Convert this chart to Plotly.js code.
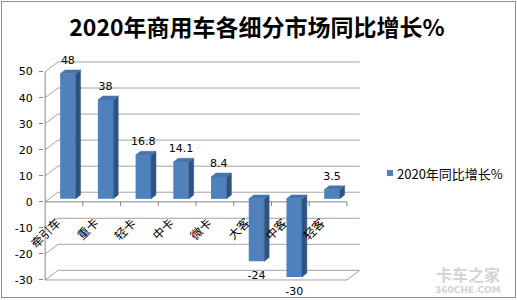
<!DOCTYPE html>
<html>
<head>
<meta charset="utf-8">
<script src="https://cdn.plot.ly/plotly-3.0.1.min.js"></script>
<style>
  html, body { margin: 0; padding: 0; background: #fff; }
  #wrap { position: relative; width: 517px; height: 300px; }
  #chart { position: absolute; left: 0; top: 0; width: 517px; height: 300px; }
  #frame { position: absolute; left: 1px; top: 1px; width: 515px; height: 297px;
           border: 1px solid #8c8c8c; box-sizing: border-box; pointer-events: none; }
</style>
</head>
<body>
<div id="wrap">
  <div id="chart"></div>
  <div id="frame"></div>
</div>
<script>
// ---- data ----
const titleText = '2020年商用车各细分市场同比增长%';
const categories = ['牵引车', '重卡', '轻卡', '中卡', '微卡', '大客', '中客', '轻客'];
const growth = [48, 38, 16.8, 14.1, 8.4, -24, -30, 3.5];
const seriesName = '2020年同比增长%';
const yTicks = [-30, -20, -10, 0, 10, 20, 30, 40, 50];

// ---- styling / pseudo-3D geometry ----
const W = 517, H = 300;
const M = { l: 44, r: 155, t: 56, b: 7 };
const PW = W - M.l - M.r, PH = H - M.t - M.b;
const XR = [-0.53, 7.9], YR = [-35, 56];
const BAR_OFF = 0.103, BAR_W = 0.41, BASE = 1.15, DX = 0.13, DY = 1.5;
const WALL_DX = 0.34, WALL_DY = 3.7;
const FRONT = '#4f81bd', SIDE = '#2f5381', TOP = '#4675ae';
const GRID = '#a3a3a3', AXIS = '#868686';
const n = categories.length;
const xLeft = -0.5, xRight = n - 0.5;
const yMin = yTicks[0], yMax = yTicks[yTicks.length - 1];

const px2x = px => (px - M.l) / PW;
const py2y = py => (H - M.b - py) / PH;

const xc = categories.map((c, i) => i + BAR_OFF);

// side and top faces
const sideX = [], sideY = [], topX = [], topY = [];
growth.forEach((v, i) => {
  const xl = xc[i] - BAR_W / 2, xr = xc[i] + BAR_W / 2;
  const y0 = BASE, y1 = v + BASE;
  sideX.push(xr, xr, xr + DX, xr + DX, xr, null);
  sideY.push(y0, y1, y1 + DY, y0 + DY, y0, null);
  const yt = Math.max(y0, y1);
  topX.push(xl, xr, xr + DX, xl + DX, xl, null);
  topY.push(yt, yt, yt + DY, yt + DY, yt, null);
});

const traces = [
  {
    type: 'bar', name: seriesName, x: xc, y: growth, base: BASE, width: BAR_W,
    marker: { color: FRONT, line: { width: 0 } }, showlegend: false, hoverinfo: 'y'
  },
  {
    type: 'scatter', mode: 'lines', x: sideX, y: sideY, fill: 'toself',
    fillcolor: SIDE, line: { width: 0.5, color: SIDE }, showlegend: false, hoverinfo: 'skip'
  },
  {
    type: 'scatter', mode: 'lines', x: topX, y: topY, fill: 'toself',
    fillcolor: TOP, line: { width: 0.5, color: TOP }, showlegend: false, hoverinfo: 'skip'
  },
  {
    type: 'scatter', mode: 'text', x: xc,
    y: growth.map(v => v + BASE + (v >= 0 ? 4.8 : -5.8)),
    text: growth.map(v => String(v)), textposition: 'middle center',
    textfont: { family: 'DejaVu Sans', size: 11, color: '#000' },
    cliponaxis: false, showlegend: false, hoverinfo: 'skip'
  }
];

const shapes = [];
const ln = (x0, y0, x1, y1, color) => shapes.push({
  type: 'line', xref: 'x', yref: 'y', x0, y0, x1, y1, layer: 'below',
  line: { color: color || GRID, width: 1 }
});
yTicks.forEach(v => {
  ln(xLeft + WALL_DX, v + WALL_DY, xRight + WALL_DX, v + WALL_DY);
  ln(xLeft, v, xLeft + WALL_DX, v + WALL_DY);
});
// floor front edge and right edge
ln(xLeft, yMin, xRight, yMin);
ln(xRight, yMin, xRight + WALL_DX, yMin + WALL_DY);
// category axis at zero with tick marks
ln(xLeft, 0, xRight, 0, AXIS);
for (let k = 1; k <= n; k++) ln(xLeft + k, 0, xLeft + k, -1.7, AXIS);
// value axis line
ln(xLeft, yMin, xLeft, yMax, AXIS);

// legend (drawn manually to match the small square key)
shapes.push({
  type: 'rect', xref: 'paper', yref: 'paper',
  x0: px2x(387), x1: px2x(393), y0: py2y(176), y1: py2y(170),
  fillcolor: FRONT, line: { width: 0 }
});

const annotations = categories.map((c, i) => ({
  x: i + 0.06, y: 0, xref: 'x', yref: 'y', text: c, showarrow: false,
  textangle: -45, xanchor: 'right', yanchor: 'top', yshift: -9,
  font: { family: 'Noto Sans CJK SC', size: 12, color: '#000' }
}));
annotations.push({
  x: px2x(395), y: py2y(173), xref: 'paper', yref: 'paper', text: seriesName,
  showarrow: false, xanchor: 'left', yanchor: 'middle',
  font: { family: 'Noto Sans CJK SC', size: 13, color: '#000' }
});
// watermark
annotations.push({
  x: px2x(468), y: py2y(274), xref: 'paper', yref: 'paper', text: '<b>卡车之家</b>',
  showarrow: false, xanchor: 'center', yanchor: 'middle',
  font: { family: 'Noto Sans CJK SC', size: 16, color: '#d4d4d4' }
});
annotations.push({
  x: px2x(468), y: py2y(290), xref: 'paper', yref: 'paper', text: '<b>360CHE.COM</b>',
  showarrow: false, xanchor: 'center', yanchor: 'middle',
  font: { family: 'DejaVu Sans', size: 9, color: '#d4d4d4' }
});

const layout = {
  width: W, height: H, margin: M,
  paper_bgcolor: '#fff', plot_bgcolor: 'rgba(0,0,0,0)',
  title: {
    text: '<b>' + titleText + '</b>', xref: 'container', yref: 'container',
    x: 257 / W, y: 1 - 28 / H, xanchor: 'center', yanchor: 'middle',
    font: { family: 'Noto Sans CJK SC', size: 23, color: '#000' }
  },
  barmode: 'overlay',
  xaxis: {
    range: XR, showgrid: false, zeroline: false, showline: false,
    showticklabels: false, ticks: '', fixedrange: true
  },
  yaxis: {
    range: YR, tickvals: yTicks, ticktext: yTicks.map(String),
    ticks: 'outside', ticklen: 4, tickcolor: AXIS, ticklabelstandoff: 4,
    tickfont: { family: 'DejaVu Sans', size: 11, color: '#000' },
    showgrid: false, zeroline: false, showline: false, fixedrange: true
  },
  showlegend: false,
  shapes, annotations
};

Plotly.newPlot('chart', traces, layout, { displayModeBar: false, staticPlot: true });
</script>
</body>
</html>
